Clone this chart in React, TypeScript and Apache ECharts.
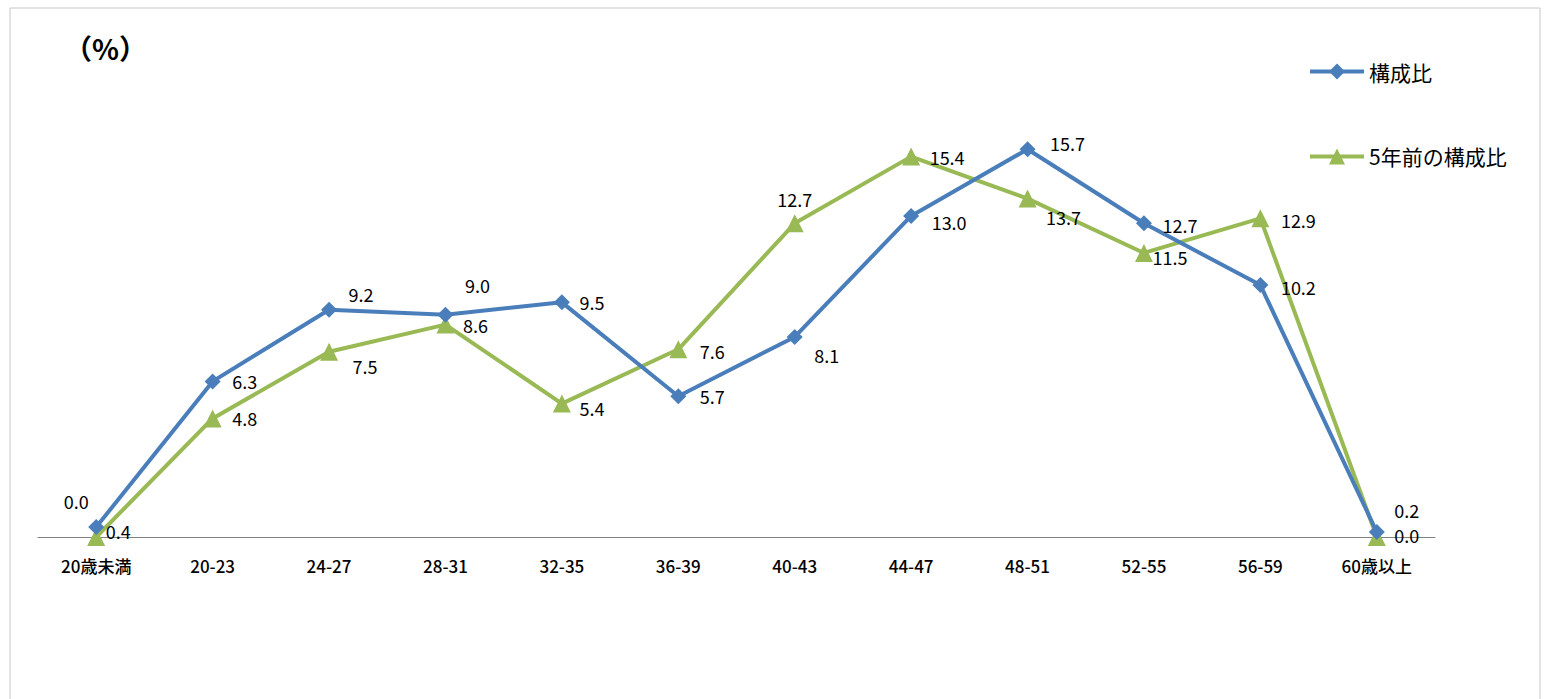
import { useEffect, useRef } from 'react'
import * as echarts from 'echarts'

const categories = ['20歳未満', '20-23', '24-27', '28-31', '32-35', '36-39', '40-43', '44-47', '48-51', '52-55', '56-59', '60歳以上']
const current = [0.4, 6.3, 9.2, 9.0, 9.5, 5.7, 8.1, 13.0, 15.7, 12.7, 10.2, 0.2]
const currentLabels = ['0.0', '6.3', '9.2', '9.0', '9.5', '5.7', '8.1', '13.0', '15.7', '12.7', '10.2', '0.2']
const previous = [0.0, 4.8, 7.5, 8.6, 5.4, 7.6, 12.7, 15.4, 13.7, 11.5, 12.9, 0.0]
const previousLabels = ['0.4', '4.8', '7.5', '8.6', '5.4', '7.6', '12.7', '15.4', '13.7', '11.5', '12.9', '0.0']

const currentOffsets = [[-20, -26], [32, 0], [32, -16], [32, -30], [30, 0], [34, 0], [32, 18], [38, 6], [40, -6], [36, 2], [38, 2], [30, -22]]
const previousOffsets = [[22, -6], [32, 0], [36, 14], [30, 0], [30, 4], [34, 2], [0, -24], [36, 0], [36, 18], [26, 4], [38, 2], [30, -2]]

const font = '"Noto Sans CJK JP", "Noto Sans", sans-serif'

export default function App() {
  const ref = useRef<HTMLDivElement>(null)

  useEffect(() => {
    document.body.style.margin = '0'
    if (!ref.current) return
    const chart = echarts.init(ref.current, undefined, { renderer: 'svg' })

    const mkData = (vals: number[], labels: string[], offs: number[][]) =>
      vals.map((v, i) => ({
        value: v,
        label: { formatter: labels[i], offset: offs[i] },
      }))

    chart.setOption({
      animation: false,
      textStyle: { fontFamily: font },
      grid: { left: 38, right: 118, top: 43, bottom: 162 },
      graphic: [
        {
          type: 'rect',
          shape: { x: 10, y: 8, width: 1530, height: 700 },
          style: { fill: 'none', stroke: '#c8c8c8', lineWidth: 1 },
        },
        {
          type: 'text',
          left: 64,
          top: 34,
          style: { text: '（%）', font: `bold 28px ${font}`, fill: '#000' },
        },
      ],
      legend: {
        orient: 'vertical',
        left: 1303,
        top: 56,
        itemGap: 64,
        itemWidth: 54,
        itemHeight: 20,
        textStyle: { fontSize: 21, color: '#000', fontFamily: font },
        data: [
          { name: '構成比', itemStyle: { color: '#4a7ebb' }, lineStyle: { width: 4 } },
          { name: '5年前の構成比', itemStyle: { color: '#98b954' }, lineStyle: { width: 4 } },
        ],
      },
      xAxis: {
        type: 'category',
        data: categories,
        axisLine: { lineStyle: { color: '#808080' } },
        axisTick: { show: false },
        axisLabel: { fontSize: 17, fontWeight: 500, color: '#000', margin: 20 },
      },
      yAxis: {
        type: 'value',
        min: 0,
        max: 20,
        show: false,
      },
      series: [
        {
          name: '構成比',
          type: 'line',
          symbol: 'diamond',
          symbolSize: 16,
          lineStyle: { width: 4, color: '#4a7ebb' },
          itemStyle: { color: '#4a7ebb' },
          label: { show: true, position: 'inside', fontSize: 18, color: '#000' },
          data: mkData(current, currentLabels, currentOffsets),
          z: 3,
        },
        {
          name: '5年前の構成比',
          type: 'line',
          symbol: 'triangle',
          symbolSize: 18,
          lineStyle: { width: 4, color: '#98b954' },
          itemStyle: { color: '#98b954' },
          label: { show: true, position: 'inside', fontSize: 18, color: '#000' },
          data: mkData(previous, previousLabels, previousOffsets),
          z: 2,
        },
      ],
    })

    return () => chart.dispose()
  }, [])

  return <div ref={ref} style={{ width: 1553, height: 699 }} />
}
